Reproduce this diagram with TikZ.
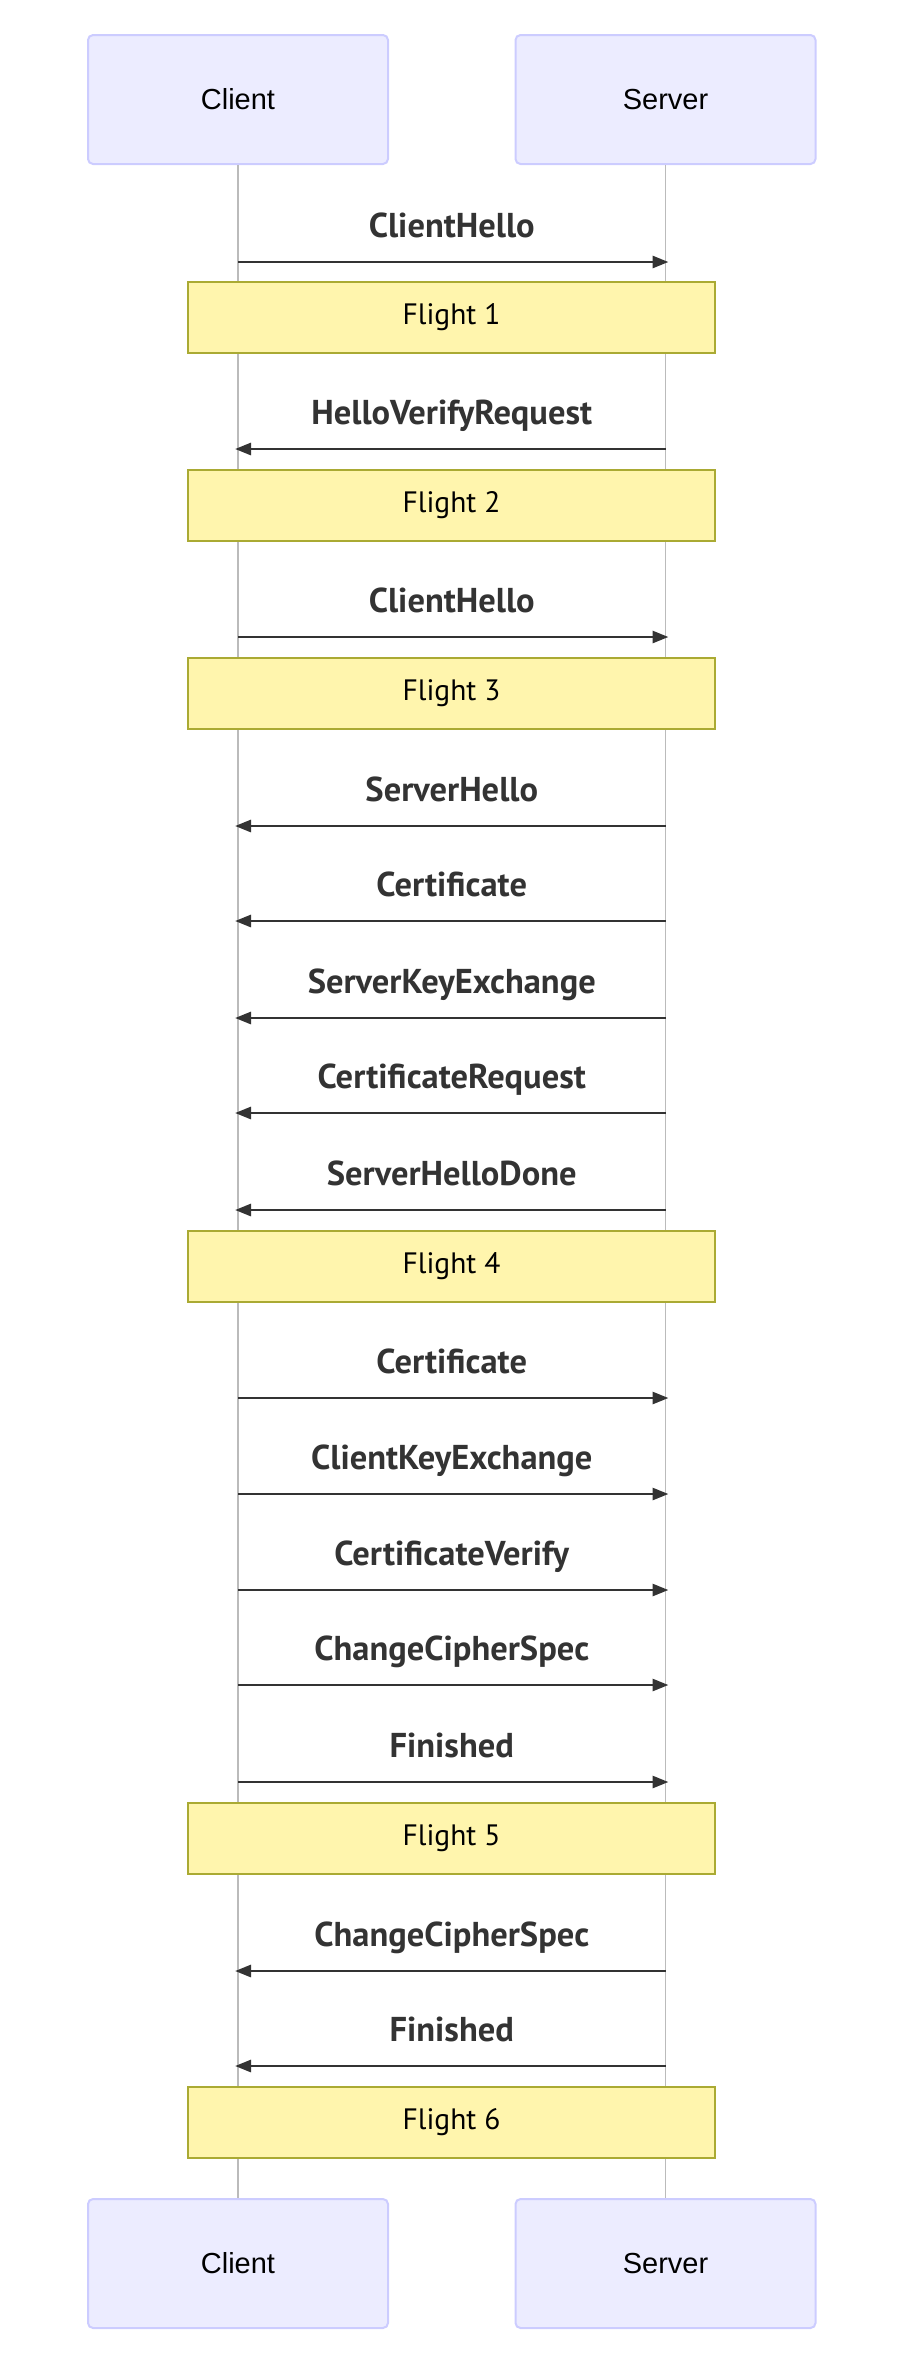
\documentclass[tikz,border=0pt]{standalone}
\usepackage{fontspec}
\setmainfont{PT Sans}
\newfontfamily\actorfont{Liberation Sans}
\usetikzlibrary{arrows.meta}
\definecolor{actorfill}{HTML}{ECECFF}
\definecolor{actorline}{HTML}{CCCCFF}
\definecolor{notefill}{HTML}{FFF5AD}
\definecolor{noteline}{HTML}{AAAA33}
\definecolor{msgcol}{HTML}{333333}
\definecolor{lifecol}{HTML}{BBBBBB}
\tikzset{
  actor/.style={draw=actorline, fill=actorfill, line width=2pt, rounded corners=5pt,
    minimum width=300pt, minimum height=129pt, font=\actorfont\fontsize{29}{35}\selectfont},
  note/.style={draw=noteline, fill=notefill, line width=2pt,
    minimum width=527pt, minimum height=71pt, font=\fontsize{29.5}{35}\selectfont},
  life/.style={draw=lifecol, line width=1.5pt},
  msg/.style={draw=msgcol, line width=2.8pt, -{Triangle[length=16pt,width=12pt]}, shorten >=-3pt},
  lbl/.style={anchor=base, yshift=25pt, text=msgcol, font=\bfseries\fontsize{34.5}{40}\selectfont},
}
\begin{document}
\begin{tikzpicture}[x=1pt, y=-1pt]
  \useasboundingbox (0,0) rectangle (906,2370);

  % participants and lifelines
  \node[actor] (ct) at (238,99.5) {Client};
  \node[actor] (st) at (665.5,99.5) {Server};
  \node[actor] (cb) at (238,2263.5) {Client};
  \node[actor] (sb) at (665.5,2263.5) {Server};
  \draw[life] (ct) -- (cb);
  \draw[life] (st) -- (sb);

  % message rows
  \coordinate (m1) at (0,262);
  \coordinate (m2) at (0,449);
  \coordinate (m3) at (0,637);
  \coordinate (m4) at (0,826);
  \coordinate (m5) at (0,921);
  \coordinate (m6) at (0,1018);
  \coordinate (m7) at (0,1113);
  \coordinate (m8) at (0,1210);
  \coordinate (m9) at (0,1398);
  \coordinate (m10) at (0,1494);
  \coordinate (m11) at (0,1590);
  \coordinate (m12) at (0,1685);
  \coordinate (m13) at (0,1782);
  \coordinate (m14) at (0,1971);
  \coordinate (m15) at (0,2066);

  \draw[msg] (ct |- m1) -- node[lbl] (t1) {ClientHello} (st |- m1);
  \node[note] (f1) at (451.5,317.5) {Flight 1};

  \draw[msg] (st |- m2) -- node[lbl] (t2) {HelloVerifyRequest} (ct |- m2);
  \node[note] (f2) at (451.5,505.5) {Flight 2};

  \draw[msg] (ct |- m3) -- node[lbl] (t3) {ClientHello} (st |- m3);
  \node[note] (f3) at (451.5,693.5) {Flight 3};

  \draw[msg] (st |- m4) -- node[lbl] (t4) {ServerHello} (ct |- m4);
  \draw[msg] (st |- m5) -- node[lbl] (t5) {Certificate} (ct |- m5);
  \draw[msg] (st |- m6) -- node[lbl] (t6) {ServerKeyExchange} (ct |- m6);
  \draw[msg] (st |- m7) -- node[lbl] (t7) {CertificateRequest} (ct |- m7);
  \draw[msg] (st |- m8) -- node[lbl] (t8) {ServerHelloDone} (ct |- m8);
  \node[note] (f4) at (451.5,1266.5) {Flight 4};

  \draw[msg] (ct |- m9) -- node[lbl] (t9) {Certificate} (st |- m9);
  \draw[msg] (ct |- m10) -- node[lbl] (t10) {ClientKeyExchange} (st |- m10);
  \draw[msg] (ct |- m11) -- node[lbl] (t11) {CertificateVerify} (st |- m11);
  \draw[msg] (ct |- m12) -- node[lbl] (t12) {ChangeCipherSpec} (st |- m12);
  \draw[msg] (ct |- m13) -- node[lbl] (t13) {Finished} (st |- m13);
  \node[note] (f5) at (451.5,1838.5) {Flight 5};

  \draw[msg] (st |- m14) -- node[lbl] (t14) {ChangeCipherSpec} (ct |- m14);
  \draw[msg] (st |- m15) -- node[lbl] (t15) {Finished} (ct |- m15);
  \node[note] (f6) at (451.5,2122.5) {Flight 6};
\end{tikzpicture}
\end{document}
